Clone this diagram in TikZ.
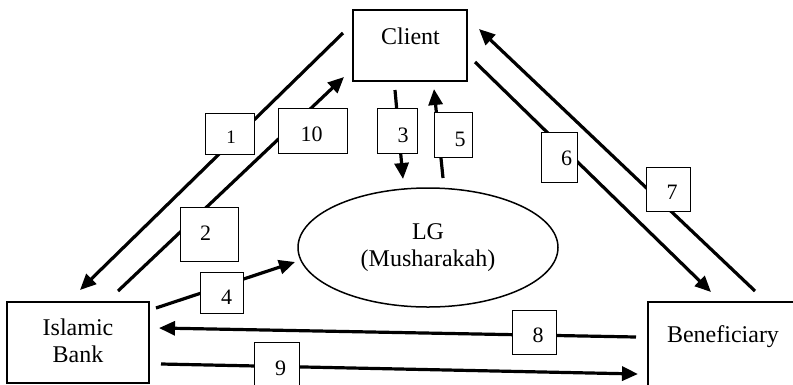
\documentclass[tikz,border=0pt]{standalone}
\usepackage{fontspec}
\setmainfont{Liberation Serif}
\usetikzlibrary{shapes.geometric,arrows.meta}

\begin{document}
\begin{tikzpicture}
    [
    x=1pt, y=-1pt
    , party/.style = {draw, line width=2pt, inner sep=0pt}
    , numbox/.style = {draw, line width=1pt, fill=white, inner sep=0pt}
    , num/.style = {inner sep=0pt, font=\fontsize{22}{24}\selectfont}
    , flow/.style = {line width=3.2pt, -{Triangle[length=16pt,width=14pt]}}
    , font=\fontsize{24}{27}\selectfont
    ]
\useasboundingbox (0,0) rectangle (793,384);
\clip (0,0) rectangle (793,384);

% parties
\node[party, minimum width=114pt, minimum height=71pt] (client) at (410,45.5) {};
\node[anchor=base] (clientname) at (410.5,44) {Client};
\node[party, minimum width=142pt, minimum height=81pt] (bank) at (78,342.5) {};
\node[align=center] (bankname) at (78,341) {Islamic\\Bank};
\node[party, minimum width=160pt, minimum height=90pt, anchor=north west] (benef) at (647,301) {};
\node[anchor=base] (benefname) at (723,342) {Beneficiary};
\node[draw, ellipse, line width=1.5pt, minimum width=260pt, minimum height=119pt, align=center] (lg) at (428,247.5) {LG\\(Musharakah)};

% end points
\coordinate (s1) at (343,33);   \coordinate (e1) at (80,290);
\coordinate (s10) at (118,291); \coordinate (e10) at (344,77);
\coordinate (s3) at (395,90);   \coordinate (e3) at (403,179);
\coordinate (s5) at (443,178);  \coordinate (e5) at (434,89);
\coordinate (s6) at (475,62);   \coordinate (e6) at (711,292);
\coordinate (s7) at (755,291);  \coordinate (e7) at (479,29);
\coordinate (s4) at (156,308);  \coordinate (e4) at (295,262);
\coordinate (s8) at (636,337);  \coordinate (e8) at (159,328);
\coordinate (s9) at (161,364);  \coordinate (e9) at (638,374);

\foreach \k in {1,10,3,5,6,7,4,8,9}
    \draw[flow] (s\k) -- (e\k);

% step numbers
\node[numbox, minimum width=49pt, minimum height=41pt] (b1) at (229.5,133.5) {};
\node[num, font=\fontsize{19}{21}\selectfont] (t1) at (231,137) {1};
\node[numbox, minimum width=69pt, minimum height=45pt] (b10) at (312.5,130.5) {};
\node[num] (t10) at (311.5,134.5) {10};
\node[numbox, minimum width=58pt, minimum height=54pt] (b2) at (209,234) {};
\node[num] (t2) at (205.5,233) {2};
\node[numbox, minimum width=40pt, minimum height=45pt] (b3) at (397,130.5) {};
\node[num] (t3) at (403,135) {3};
\node[numbox, minimum width=38pt, minimum height=45pt] (b5) at (453,134.5) {};
\node[num] (t5) at (460,139.5) {5};
\node[numbox, minimum width=36pt, minimum height=50pt] (b6) at (559,157) {};
\node[num] (t6) at (566.5,158) {6};
\node[numbox, minimum width=44pt, minimum height=44pt] (b7) at (668,189) {};
\node[num] (t7) at (672,192) {7};
\node[numbox, minimum width=43pt, minimum height=41pt] (b4) at (221.5,292.5) {};
\node[num] (t4) at (226.5,297.5) {4};
\node[numbox, minimum width=44pt, minimum height=44pt] (b8) at (534,332) {};
\node[num] (t8) at (538,335.5) {8};
\node[numbox, minimum width=45pt, minimum height=50pt, anchor=north] (b9) at (276.5,342) {};
\node[num] (t9) at (280.5,368.5) {9};
\end{tikzpicture}
\end{document}
